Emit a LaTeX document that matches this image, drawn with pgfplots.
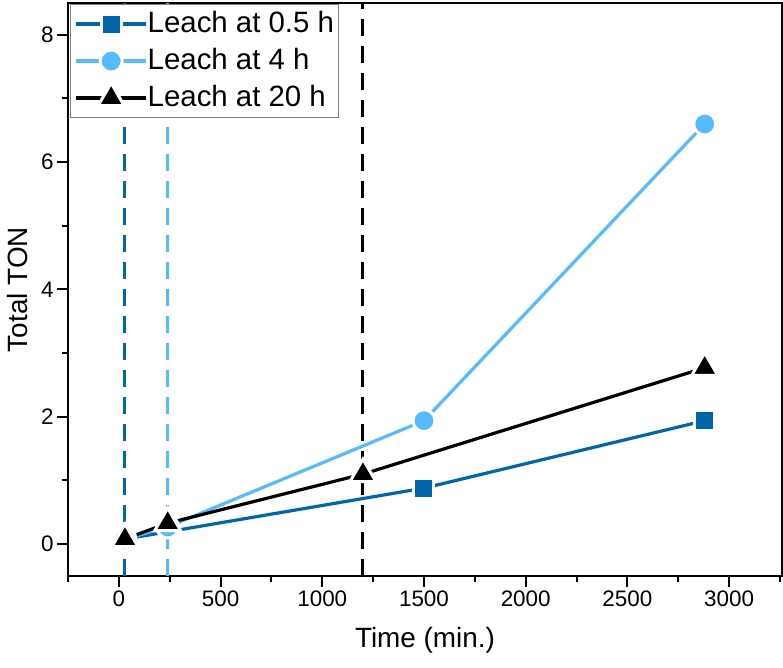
\documentclass[border=0pt]{standalone}
\usepackage{fontspec}
\setmainfont{Liberation Sans}
\usepackage{pgfplots}
\pgfplotsset{compat=1.18}
\definecolor{dblue}{HTML}{0066AA}
\definecolor{lblue}{HTML}{55BBFF}
\begin{document}
\begin{tikzpicture}
\begin{axis}[
  scale only axis, width=714bp, height=573bp,
  xmin=-250, xmax=3260, ymin=-0.5, ymax=8.5,
  xtick={0,500,...,3000}, ytick={0,2,4,6,8},
  minor xtick={-250,250,750,1250,1750,2250,2750,3250},
  minor ytick={1,3,5,7},
  xtick pos=bottom, ytick pos=left,
  tick align=outside, major tick length=11bp, minor tick length=6bp,
  axis line style={line width=2bp},
  every tick/.style={black, line width=2bp},
  /pgf/number format/assume math mode=true,
  /pgf/number format/1000 sep={},
  ticklabel style={font=\fontsize{22.5}{22.5}\selectfont},
  xlabel={Time (min.)}, ylabel={Total TON},
  label style={font=\fontsize{28}{28}\selectfont},
  xlabel style={at={(axis description cs:0.5,-0.113)}, anchor=center},
  ylabel style={at={(axis description cs:-0.070,0.5)}, anchor=center},
  legend cell align=left,
  legend image code/.code={\draw[mark repeat=2,mark phase=2,#1] plot coordinates {(0bp,0bp) (35bp,0bp) (70bp,0bp)};},
  legend style={at={(axis description cs:0.003,0.998)}, anchor=north west,
    draw=gray, line width=0.8bp, fill=white, inner sep=4bp,
    font=\fontsize{29.5}{30}\selectfont, row sep=6bp,
    nodes={inner sep=0bp, text height=24bp, text depth=7bp}},
]
% vertical dashed markers
\addplot[dblue, line width=3bp, dash pattern=on 17bp off 10bp, forget plot] coordinates {(30,-0.5) (30,8.5)};
\addplot[lblue, line width=3bp, dash pattern=on 17bp off 10bp, forget plot] coordinates {(240,-0.5) (240,8.5)};
\addplot[black, line width=3bp, dash pattern=on 17bp off 10bp, forget plot] coordinates {(1200,-0.5) (1200,8.5)};
% data
\addplot[dblue, line width=3.2bp, mark=square*, mark size=10bp,
  mark options={draw=white, fill=dblue, line width=3bp, solid}] coordinates {
  (30,0.08) (1500,0.88) (2880,1.94)};
\addlegendentry{Leach at 0.5 h}
\addplot[lblue, line width=3.2bp, mark=*, mark size=11bp,
  mark options={draw=white, fill=lblue, line width=3bp, solid}] coordinates {
  (30,0.08) (240,0.27) (1500,1.94) (2880,6.60)};
\addlegendentry{Leach at 4 h}
\addplot[black, line width=3.2bp, mark=triangle*, mark size=15bp,
  mark options={draw=white, fill=black, line width=3bp, solid}] coordinates {
  (30,0.08) (240,0.33) (1200,1.10) (2880,2.77)};
\addlegendentry{Leach at 20 h}
\end{axis}
\pgfresetboundingbox
\path (current axis.south west) ++(-68bp,-92bp) rectangle ++(783bp,668bp);
\end{tikzpicture}
\end{document}
